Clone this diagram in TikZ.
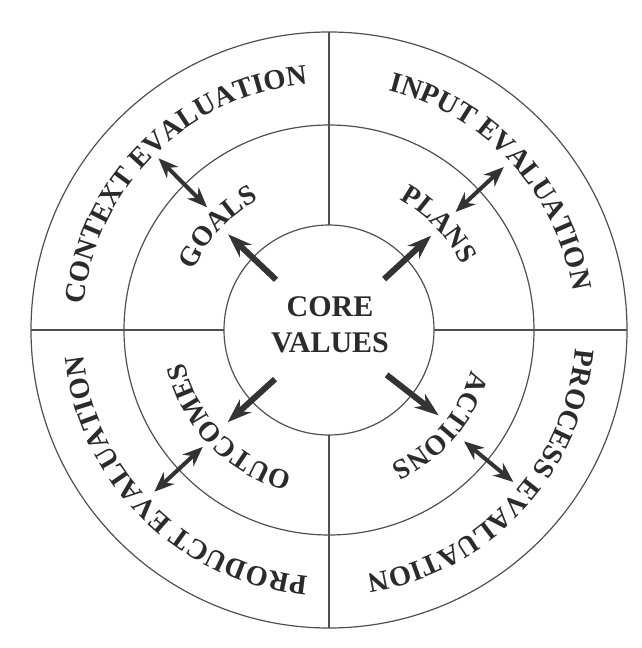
\documentclass[tikz,border=0pt]{standalone}
\usepackage{fontspec}
\setmainfont{Liberation Serif}
\usetikzlibrary{arrows.meta,decorations.text}
\definecolor{txt}{HTML}{2B2B2B}
\definecolor{ln}{HTML}{505050}
\definecolor{arr}{HTML}{333333}
\newcommand\lblfont{\bfseries\fontsize{28.5}{28.5}\selectfont\color{txt}}
\newcommand\midfont{\bfseries\fontsize{28}{28}\selectfont\color{txt}}
% radius, centre angle, text, font
\newcommand\arctext[4]{%
  \path[decorate,decoration={text along path,text align=center,text={|#4|#3}}]
    ({#2+70}:#1) arc[start angle={#2+70}, end angle={#2-70}, radius=#1];}
\tikzset{
  ring/.style={draw=ln, line width=1.2pt},
  spoke/.style={draw=ln, line width=1.1pt},
  outarrow/.style={draw=arr, line width=6pt, -{Stealth[length=24pt,width=17pt]}},
  dblarrow/.style={draw=arr, line width=4pt, {Stealth[length=20pt,width=16pt]}-{Stealth[length=20pt,width=16pt]}},
}
\begin{document}
\begin{tikzpicture}[x=1pt,y=1pt]
\useasboundingbox[fill=white] (-329,-318) rectangle (312,330);
\coordinate (c) at (0,0);
% rings
\draw[ring] (c) circle[radius=298];
\draw[ring] (c) circle[radius=205];
\draw[ring] (c) circle[radius=105];
% spokes
\draw[spoke] (90:105) -- (90:298);
\draw[spoke] (180:105) -- (180:298);
\draw[spoke] (0:105) -- (0:298);
\draw[spoke] (270:105) -- (270:298);
% centre text
\node[font=\bfseries\fontsize{30}{36}\selectfont, text=txt, align=center] (core) at (1,5) {CORE\\VALUES};
% outer labels
\arctext{247}{134.5}{CONTEXT EVALUATION}{\lblfont}
\arctext{247}{42.5}{INPUT EVALUATION}{\lblfont}
\arctext{247}{-42.8}{PROCESS EVALUATION}{\lblfont}
\arctext{247}{225.5}{PRODUCT EVALUATION}{\lblfont}
% middle labels
\arctext{148}{137.3}{GOALS}{\midfont}
\arctext{148}{43.8}{PLANS}{\midfont}
\arctext{148}{-40.5}{ACTIONS}{\midfont}
\arctext{148}{224.3}{OUTCOMES}{\midfont}
% arrow end points
\coordinate (g0) at (136.5:73);  \coordinate (g1) at (136.5:139);
\coordinate (p0) at (42.7:75);   \coordinate (p1) at (42.7:139);
\coordinate (a0) at (-37.9:73);  \coordinate (a1) at (-37.9:139);
\coordinate (o0) at (222.3:73);  \coordinate (o1) at (222.3:137);
\coordinate (ge0) at (134.8:173); \coordinate (ge1) at (134.8:242);
\coordinate (pe0) at (43:173);    \coordinate (pe1) at (43:239);
\coordinate (ae0) at (-39.5:175); \coordinate (ae1) at (-39.5:239);
\coordinate (oe0) at (222.8:172); \coordinate (oe1) at (222.8:238);
% core arrows
\draw[outarrow] (g0) -- (g1);
\draw[outarrow] (p0) -- (p1);
\draw[outarrow] (a0) -- (a1);
\draw[outarrow] (o0) -- (o1);
% double arrows
\draw[dblarrow] (ge0) -- (ge1);
\draw[dblarrow] (pe0) -- (pe1);
\draw[dblarrow] (ae0) -- (ae1);
\draw[dblarrow] (oe0) -- (oe1);
\end{tikzpicture}
\end{document}
